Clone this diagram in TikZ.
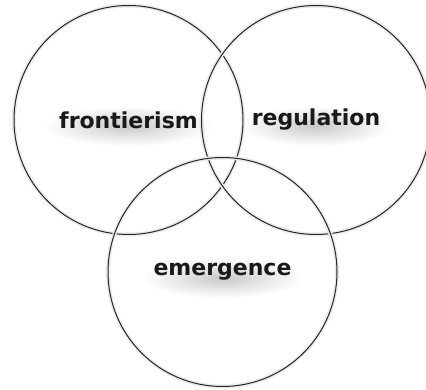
\documentclass[tikz,border=0pt]{standalone}
\usepackage{fontspec}
\setmainfont{DejaVu Sans}
\usetikzlibrary{fadings}

\tikzfading[name=softglow, inner color=transparent!30, outer color=transparent!100]

\begin{document}
\begin{tikzpicture}[x=1pt,y=-1pt,
    set/.style={circle,draw=black!85,line width=1pt,minimum size=229pt,inner sep=0pt,
      preaction={draw=black!8,line width=4pt}},
    setname/.style={font=\bfseries\fontsize{22}{26}\selectfont,text=black!90,inner sep=0pt},
    glow/.style={fill=black,opacity=0.3,path fading=softglow}]
  \useasboundingbox (0,0) rectangle (426,390);
  \fill[white] (0,0) rectangle (426,390);
  \node[set] (frontier) at (128.5,120) {};
  \node[set] (regul) at (316,120) {};
  \node[set] (emerg) at (222.5,272) {};
  \fill[glow] ([yshift=-6pt]frontier) ellipse (84 and 20);
  \fill[glow] ([yshift=-6pt]regul) ellipse (74 and 20);
  \fill[glow] ([yshift=-6pt]emerg) ellipse (80 and 20);
  \node[setname] (frontier-txt) at (frontier) {frontierism};
  \node[setname] (regul-txt) at (regul) {regulation};
  \node[setname] (emerg-txt) at (emerg) {emergence};
\end{tikzpicture}
\end{document}
